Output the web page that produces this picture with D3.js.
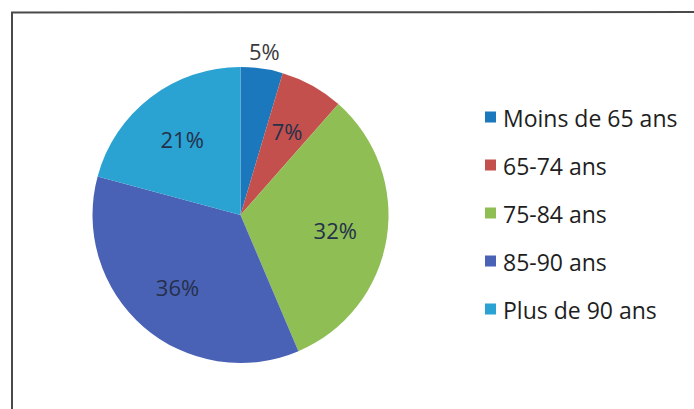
<!DOCTYPE html>
<html>
<head>
<meta charset="utf-8">
<script src="https://cdn.jsdelivr.net/npm/d3@7"></script>
<style>
  html, body { margin: 0; padding: 0; background: #ffffff; }
  svg { display: block; }
</style>
</head>
<body>
<svg id="chart" width="694" height="409"></svg>
<script>
// Répartition par tranche d'âge
const categories = ["Moins de 65 ans", "65-74 ans", "75-84 ans", "85-90 ans", "Plus de 90 ans"];
const values = [4.6, 6.9, 32.1, 35.6, 20.8];
const colors = ["#1b78bd", "#c4504e", "#8fbe55", "#4a62b5", "#2aa2d2"];

const W = 694, H = 409;
const svg = d3.select("#chart");
const font = "'Open Sans', Lato, sans-serif";

// chart frame (left and top edges)
svg.append("path")
  .attr("d", `M12,${H} L12,12.5 L${W},12`)
  .attr("fill", "none")
  .attr("stroke", "#4a4a4a")
  .attr("stroke-width", 2);

const cx = 240.5, cy = 215, R = 148;

const color = d3.scaleOrdinal().domain(categories).range(colors);

const pie = d3.pie().sort(null).value(d => d.value);
const data = categories.map((c, i) => ({ name: c, value: values[i] }));
const arcs = pie(data);
const total = d3.sum(values);

const arc = d3.arc().innerRadius(0).outerRadius(R);
const labelArc = d3.arc().innerRadius(96).outerRadius(96);
const outerLabelArc = d3.arc().innerRadius(166).outerRadius(166);

const g = svg.append("g").attr("transform", `translate(${cx},${cy})`);

g.selectAll("path.slice")
  .data(arcs)
  .join("path")
  .attr("class", "slice")
  .attr("d", arc)
  .attr("fill", d => color(d.data.name));

// percentage labels: small slices (<6%) are placed outside the pie
g.selectAll("text.pct")
  .data(arcs)
  .join("text")
  .attr("class", "pct")
  .attr("transform", d => {
    const small = d.data.value / total < 0.06;
    const [x, y] = (small ? outerLabelArc : labelArc).centroid(d);
    return `translate(${x},${y})`;
  })
  .attr("text-anchor", "middle")
  .attr("dominant-baseline", "central")
  .attr("font-family", font)
  .attr("font-size", 22)
  .attr("fill", d => d.data.value / total < 0.06 ? "#3a3a3a" : "#25304a")
  .text(d => Math.round(d.data.value / total * 100) + "%");

// legend
const legendY = d3.scalePoint().domain(categories).range([117, 309]);
const legend = svg.append("g");
const rows = legend.selectAll("g")
  .data(categories)
  .join("g")
  .attr("transform", d => `translate(485,${legendY(d)})`);

rows.append("rect")
  .attr("x", 0).attr("y", -5.5)
  .attr("width", 11).attr("height", 11)
  .attr("fill", d => color(d));

rows.append("text")
  .attr("x", 18)
  .attr("y", 1)
  .attr("dominant-baseline", "central")
  .attr("font-family", font)
  .attr("font-size", 23)
  .attr("fill", "#1e1e1e")
  .text(d => d);
</script>
</body>
</html>
